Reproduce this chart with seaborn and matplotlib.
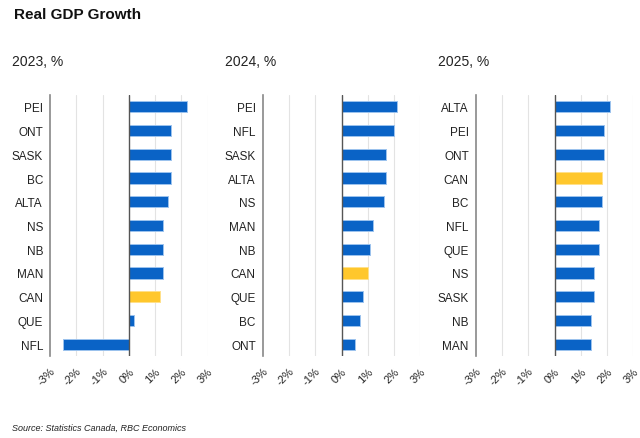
import matplotlib
matplotlib.use("Agg")
import matplotlib.pyplot as plt
import seaborn as sns
import pandas as pd

sns.set_style("white")
plt.rcParams['font.family'] = ['Liberation Sans', 'DejaVu Sans']

cats_2023 = ["PEI", "ONT", "SASK", "BC", "ALTA", "NS", "NB", "MAN", "CAN", "QUE", "NFL"]
vals_2023 = [2.2, 1.6, 1.6, 1.6, 1.5, 1.3, 1.3, 1.3, 1.2, 0.2, -2.5]
cats_2024 = ["PEI", "NFL", "SASK", "ALTA", "NS", "MAN", "NB", "CAN", "QUE", "BC", "ONT"]
vals_2024 = [2.1, 2.0, 1.7, 1.7, 1.6, 1.2, 1.1, 1.0, 0.8, 0.7, 0.5]
cats_2025 = ["ALTA", "PEI", "ONT", "CAN", "BC", "NFL", "QUE", "NS", "SASK", "NB", "MAN"]
vals_2025 = [2.1, 1.9, 1.9, 1.8, 1.8, 1.7, 1.7, 1.5, 1.5, 1.4, 1.4]
panel_titles = ["2023, %", "2024, %", "2025, %"]
xticks = [-3, -2, -1, 0, 1, 2, 3]
xtick_labels = ["-3%", "-2%", "-1%", "0%", "1%", "2%", "3%"]

BLUE = "#0a63c6"
YELLOW = "#ffc72c"
BLUE_EDGE = "#9cc3ee"
YELLOW_EDGE = "#ffe08a"

fig = plt.figure(figsize=(6.4, 4.39), dpi=100)
lefts = [50 / 640, 262.7 / 640, 475.7 / 640]
width = 157.7 / 640
bottom = 1 - 357 / 439
height = 261 / 439

datasets = [(cats_2023, vals_2023), (cats_2024, vals_2024), (cats_2025, vals_2025)]
for i, (cats, vals) in enumerate(datasets):
    ax = fig.add_axes([lefts[i], bottom, width, height])
    df = pd.DataFrame({"region": cats, "value": vals})
    pal = {c: (YELLOW if c == "CAN" else BLUE) for c in cats}
    sns.barplot(data=df, x="value", y="region", hue="region", palette=pal,
                legend=False, orient="h", ax=ax, width=0.47,
                linewidth=0.7, saturation=1)
    for patch in ax.patches:
        fc = patch.get_facecolor()
        is_yellow = fc[0] > 0.9
        patch.set_edgecolor(YELLOW_EDGE if is_yellow else BLUE_EDGE)
    ax.set_xlim(-3, 3)
    ax.set_ylim(10.5, -0.5)
    ax.set_xticks(xticks)
    ax.set_xticklabels(xtick_labels, rotation=45, ha="right", va="top",
                       rotation_mode="anchor", fontsize=8, color="#222222")
    ax.tick_params(axis="x", length=0, pad=7)
    ax.tick_params(axis="y", length=0, pad=5, labelsize=8.5, labelcolor="#222222")
    ax.set_xlabel("")
    ax.set_ylabel("")
    for t in xticks:
        if t not in (-3, 0):
            ax.axvline(t, color="#e3e3e3", lw=0.8, zorder=0)
    ax.axvline(0, color="#555555", lw=1.0, zorder=3)
    for s in ["top", "right", "bottom"]:
        ax.spines[s].set_visible(False)
    ax.spines["left"].set_color("#888888")
    ax.spines["left"].set_linewidth(1.2)
    fig.text(lefts[i] - 38 / 640, 1 - 62 / 439, panel_titles[i], fontsize=10,
             va="center", ha="left", color="#222222")

fig.text(14 / 640, 1 - 15 / 439, "Real GDP Growth", fontsize=11, fontweight="bold",
         va="center", ha="left", color="#111111")
fig.text(12 / 640, 1 - 428 / 439, "Source: Statistics Canada, RBC Economics",
         fontsize=6.5, style="italic", va="center", ha="left", color="#222222")

fig.savefig("out.png", dpi=100)
